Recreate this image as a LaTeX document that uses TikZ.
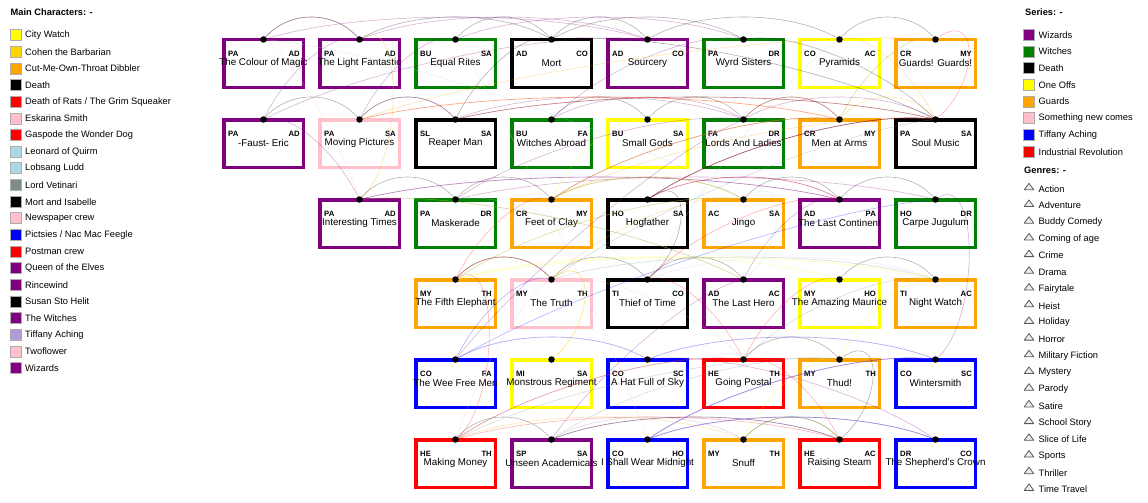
\documentclass[tikz,border=0pt]{standalone}
\usepackage{fontspec}
\setmainfont{Liberation Sans}
\usetikzlibrary{calc}
\definecolor{cpurple}{HTML}{800080}
\definecolor{cgreen}{HTML}{008000}
\definecolor{cyellow}{HTML}{FFFF00}
\definecolor{corange}{HTML}{FFA500}
\definecolor{cpink}{HTML}{FFC0CB}
\definecolor{cblue}{HTML}{0000FF}
\definecolor{cred}{HTML}{FF0000}
\definecolor{cgold}{HTML}{FFD700}
\definecolor{clblue}{HTML}{ADD8E6}
\definecolor{cgrey}{HTML}{7F8C8D}
\definecolor{clav}{HTML}{B19CD9}
\newcommand\bookbox[7]{%
  \node[book, draw=#4] (#1box) at (#2,#3) {};
  \node[code, anchor=west] (#1l) at ({#2-35.5},{#3-9.5}) {#5};
  \node[code, anchor=east] (#1r) at ({#2+36.5},{#3-9.5}) {#6};
  \node[ttl] (#1t) at (#2,{#3-0.8}) {#7};
  \coordinate (#1c) at (#2,{#3-24});}
\newcommand\putdot[1]{\node[bdot] (#1) at (#1c) {};}
\newcommand\lnk[3]{\draw[link,#1] (#2c) .. controls ($(#2c)!0.25!(#3c)+(0,-30)$) and ($(#2c)!0.75!(#3c)+(0,-30)$) .. (#3c);}
\newcommand\lnkv[3]{\draw[link,#1] (#2c) .. controls +(45,-35) and +(45,-35) .. (#3c);}
\newcommand\legitem[4]{%
  \node[sq, fill=#3] (#1s) at (15.5,#2) {};
  \node[legtxt] (#1t) at (25,#2) {#4};}
\newcommand\seritem[4]{%
  \node[sq, fill=#3] (#1s) at (1029,#2) {};
  \node[legtxt] (#1t) at (1038.5,#2) {#4};}
\newcommand\genitem[3]{%
  \draw[fill=gray!15, draw=gray!70!black, line width=0.8pt, line join=round] (1029,{#2-5}) -- (1033.8,{#2+1.5}) -- (1024.2,{#2+1.5}) -- cycle;
  \node[legtxt] (#1t) at (1038.5,{#2+0.5}) {#3};}
\begin{document}
\begin{tikzpicture}[x=1pt,y=-1pt,
  book/.style={draw, line width=3.5pt, minimum width=79.5pt, minimum height=47.5pt, inner sep=0pt, fill=white},
  code/.style={font=\fontsize{7.7}{8}\selectfont\bfseries, inner sep=0pt},
  ttl/.style={font=\fontsize{9.8}{11}\selectfont, inner sep=0pt},
  bdot/.style={circle, fill=black, inner sep=0pt, minimum size=6.5pt},
  link/.style={line width=0.6pt, opacity=0.3},
  sq/.style={draw=gray!65, line width=0.9pt, minimum size=11pt, inner sep=0pt},
  legtxt/.style={anchor=west, inner sep=0pt, font=\fontsize{9.3}{11}\selectfont},
  hdr/.style={anchor=west, inner sep=0pt, font=\fontsize{9.3}{11}\selectfont\bfseries}]
\useasboundingbox[fill=white] (0,0) rectangle (1148,503);

% ---- left legend
\node[hdr] (mainhdr) at (10.5,12.3) {Main Characters: -};
\legitem{a1}{35.2}{cyellow}{City Watch}
\legitem{a2}{51.85}{cgold}{Cohen the Barbarian}
\legitem{a3}{68.5}{corange}{Cut-Me-Own-Throat Dibbler}
\legitem{a4}{85.15}{black}{Death}
\legitem{a5}{101.8}{cred}{Death of Rats / The Grim Squeaker}
\legitem{a6}{118.45}{cpink}{Eskarina Smith}
\legitem{a7}{135.1}{cred}{Gaspode the Wonder Dog}
\legitem{a8}{151.75}{clblue}{Leonard of Quirm}
\legitem{a9}{168.4}{clblue}{Lobsang Ludd}
\legitem{a10}{185.05}{cgrey}{Lord Vetinari}
\legitem{a11}{201.7}{black}{Mort and Isabelle}
\legitem{a12}{218.35}{cpink}{Newspaper crew}
\legitem{a13}{235}{cblue}{Pictsies / Nac Mac Feegle}
\legitem{a14}{251.65}{cred}{Postman crew}
\legitem{a15}{268.3}{cpurple}{Queen of the Elves}
\legitem{a16}{284.95}{cpurple}{Rincewind}
\legitem{a17}{301.6}{black}{Susan Sto Helit}
\legitem{a18}{318.25}{cpurple}{The Witches}
\legitem{a19}{334.9}{clav}{Tiffany Aching}
\legitem{a20}{351.55}{cpink}{Twoflower}
\legitem{a21}{368.2}{cpurple}{Wizards}

% ---- right legend
\node[hdr] (serhdr) at (1025,12.5) {Series: -};
\seritem{s1}{34.8}{cpurple}{Wizards}
\seritem{s2}{51.5}{cgreen}{Witches}
\seritem{s3}{68.2}{black}{Death}
\seritem{s4}{84.9}{cyellow}{One Offs}
\seritem{s5}{101.6}{corange}{Guards}
\seritem{s6}{118.3}{cpink}{Something new comes}
\seritem{s7}{135}{cblue}{Tiffany Aching}
\seritem{s8}{151.7}{cred}{Industrial Revolution}
\node[hdr] (genhdr) at (1024,170.3) {Genres: -};
\genitem{g1}{188.3}{Action}
\genitem{g2}{205}{Adventure}
\genitem{g3}{221.7}{Buddy Comedy}
\genitem{g4}{238.4}{Coming of age}
\genitem{g5}{255.1}{Crime}
\genitem{g6}{271.8}{Drama}
\genitem{g7}{288.5}{Fairytale}
\genitem{g8}{305.2}{Heist}
\genitem{g9}{321.9}{Holiday}
\genitem{g10}{338.6}{Horror}
\genitem{g11}{355.3}{Military Fiction}
\genitem{g12}{372}{Mystery}
\genitem{g13}{388.7}{Parody}
\genitem{g14}{405.4}{Satire}
\genitem{g15}{422.1}{School Story}
\genitem{g16}{438.8}{Slice of Life}
\genitem{g17}{455.5}{Sports}
\genitem{g18}{472.2}{Thriller}
\genitem{g19}{488.9}{Time Travel}

% ---- books
\bookbox{com}{263.5}{63.5}{cpurple}{PA}{AD}{The Colour of Magic}
\bookbox{lf}{359.5}{63.5}{cpurple}{PA}{AD}{The Light Fantastic}
\bookbox{er}{455.5}{63.5}{cgreen}{BU}{SA}{Equal Rites}
\bookbox{mort}{551.5}{63.5}{black}{AD}{CO}{Mort}
\bookbox{sou}{647.5}{63.5}{cpurple}{AD}{CO}{Sourcery}
\bookbox{ws}{743.5}{63.5}{cgreen}{PA}{DR}{Wyrd Sisters}
\bookbox{pyr}{839.5}{63.5}{cyellow}{CO}{AC}{Pyramids}
\bookbox{gg}{935.5}{63.5}{corange}{CR}{MY}{Guards! Guards!}
\bookbox{eric}{263.5}{143.5}{cpurple}{PA}{AD}{-Faust- Eric}
\bookbox{mp}{359.5}{143.5}{cpink}{PA}{SA}{Moving Pictures}
\bookbox{rm}{455.5}{143.5}{black}{SL}{SA}{Reaper Man}
\bookbox{wa}{551.5}{143.5}{cgreen}{BU}{FA}{Witches Abroad}
\bookbox{sg}{647.5}{143.5}{cyellow}{BU}{SA}{Small Gods}
\bookbox{ll}{743.5}{143.5}{cgreen}{FA}{DR}{Lords And Ladies}
\bookbox{maa}{839.5}{143.5}{corange}{CR}{MY}{Men at Arms}
\bookbox{sm}{935.5}{143.5}{black}{PA}{SA}{Soul Music}
\bookbox{it}{359.5}{223.5}{cpurple}{PA}{AD}{Interesting Times}
\bookbox{mask}{455.5}{223.5}{cgreen}{PA}{DR}{Maskerade}
\bookbox{foc}{551.5}{223.5}{corange}{CR}{MY}{Feet of Clay}
\bookbox{hog}{647.5}{223.5}{black}{HO}{SA}{Hogfather}
\bookbox{jingo}{743.5}{223.5}{corange}{AC}{SA}{Jingo}
\bookbox{tlc}{839.5}{223.5}{cpurple}{AD}{PA}{The Last Continent}
\bookbox{cj}{935.5}{223.5}{cgreen}{HO}{DR}{Carpe Jugulum}
\bookbox{tfe}{455.5}{303.5}{corange}{MY}{TH}{The Fifth Elephant}
\bookbox{tt}{551.5}{303.5}{cpink}{MY}{TH}{The Truth}
\bookbox{tot}{647.5}{303.5}{black}{TI}{CO}{Thief of Time}
\bookbox{tlh}{743.5}{303.5}{cpurple}{AD}{AC}{The Last Hero}
\bookbox{tam}{839.5}{303.5}{cyellow}{MY}{HO}{The Amazing Maurice}
\bookbox{nw}{935.5}{303.5}{corange}{TI}{AC}{Night Watch}
\bookbox{wfm}{455.5}{383.5}{cblue}{CO}{FA}{The Wee Free Men}
\bookbox{mr}{551.5}{383.5}{cyellow}{MI}{SA}{Monstrous Regiment}
\bookbox{hfs}{647.5}{383.5}{cblue}{CO}{SC}{A Hat Full of Sky}
\bookbox{gp}{743.5}{383.5}{cred}{HE}{TH}{Going Postal}
\bookbox{thud}{839.5}{383.5}{corange}{MY}{TH}{Thud!}
\bookbox{wint}{935.5}{383.5}{cblue}{CO}{SC}{Wintersmith}
\bookbox{mm}{455.5}{463.5}{cred}{HE}{TH}{Making Money}
\bookbox{ua}{551.5}{463.5}{cpurple}{SP}{SA}{Unseen Academicals}
\bookbox{iswm}{647.5}{463.5}{cblue}{CO}{HO}{I Shall Wear Midnight}
\bookbox{snuff}{743.5}{463.5}{corange}{MY}{TH}{Snuff}
\bookbox{rs}{839.5}{463.5}{cred}{HE}{AC}{Raising Steam}
\bookbox{tsc}{935.5}{463.5}{cblue}{DR}{CO}{The Shepherd\textquotesingle s Crown}

% ---- links
% Rincewind
\lnk{cpurple}{com}{lf}\lnk{cpurple}{lf}{sou}\lnk{cpurple}{sou}{eric}\lnk{cpurple}{eric}{it}
\lnk{cpurple}{it}{tlc}\lnk{cpurple}{tlc}{tlh}\lnk{cpurple}{tlh}{ua}\lnk{cpurple}{lf}{eric}\lnk{cpurple}{com}{sou}
% Twoflower
\lnk{cpink}{com}{lf}\lnkv{cpink}{lf}{it}\lnk{cpink}{com}{it}
% Cohen
\lnkv{cgold}{lf}{it}\lnk{cgold}{it}{tlh}
% Death
\lnk{black}{com}{lf}\lnk{black}{lf}{mort}\lnk{black}{mort}{sou}\lnk{black}{mort}{rm}\lnk{black}{rm}{sm}
\lnk{black}{er}{mort}\lnk{black}{ws}{sm}\lnk{black}{pyr}{gg}\lnk{black}{eric}{mp}\lnk{black}{mp}{rm}
\lnk{black}{wa}{sg}\lnk{black}{sg}{ll}\lnk{black}{ll}{maa}\lnk{black}{it}{mask}\lnk{black}{mask}{foc}
\lnk{black}{jingo}{tlc}\lnk{black}{tlc}{cj}\lnk{black}{tfe}{tt}\lnk{black}{tt}{tot}\lnk{black}{tam}{nw}
\lnk{black}{gp}{thud}\lnk{black}{mm}{ua}\lnk{black}{snuff}{rs}\lnk{black}{ua}{rs}\lnkv{black}{thud}{rs}
\lnk{black}{tot}{tlh}\lnk{black}{mort}{ws}\lnk{black}{sou}{pyr}
% Wizards
\lnk{cpurple}{er}{mp}\lnk{cpurple}{mp}{rm}\lnk{cpurple}{rm}{ll}\lnk{cpurple}{ll}{sm}\lnk{cpurple}{sm}{hog}
\lnk{cpurple}{hog}{tlc}\lnk{cpurple}{ua}{rs}\lnk{cpurple}{it}{tlc}
% Witches
\lnk{cpurple}{er}{ws}\lnk{cpurple}{ws}{wa}\lnk{cpurple}{wa}{ll}\lnk{cpurple}{ll}{mask}\lnk{cpurple}{mask}{cj}
\lnkv{cpurple}{cj}{wint}\lnk{cpurple}{wint}{iswm}\lnk{cpurple}{iswm}{tsc}\lnk{cpurple}{hfs}{tsc}
% City Watch
\lnk{cyellow}{gg}{maa}\lnk{cyellow}{maa}{foc}\lnk{cyellow}{foc}{jingo}\lnk{cyellow}{jingo}{tfe}\lnk{cyellow}{tfe}{nw}
\lnk{cyellow}{nw}{thud}\lnk{cyellow}{thud}{snuff}\lnk{cyellow}{snuff}{rs}\lnkv{cyellow}{tt}{mr}\lnk{cyellow}{tam}{tfe}\lnk{cyellow}{sg}{foc}
% Dibbler
\lnk{corange}{gg}{mp}\lnk{corange}{mp}{maa}\lnk{corange}{maa}{sm}\lnk{corange}{sm}{foc}\lnk{corange}{foc}{jingo}
\lnk{corange}{jingo}{tt}\lnkv{corange}{tt}{mr}\lnk{corange}{pyr}{sm}\lnk{corange}{mm}{snuff}
% Vetinari
\lnk{cgrey}{gg}{maa}\lnk{cgrey}{maa}{foc}\lnk{cgrey}{foc}{jingo}\lnk{cgrey}{jingo}{tfe}\lnk{cgrey}{tfe}{tt}
\lnk{cgrey}{tt}{nw}\lnk{cgrey}{nw}{gp}\lnk{cgrey}{gp}{mm}\lnk{cgrey}{mm}{thud}\lnk{cgrey}{thud}{ua}
\lnk{cgrey}{ua}{snuff}\lnk{cgrey}{snuff}{rs}\lnk{cgrey}{it}{tlh}\lnk{cgrey}{sm}{tt}
% Death of Rats
\lnk{cred}{rm}{sm}\lnk{cred}{sm}{hog}\lnk{cred}{hog}{tlc}\lnk{cred}{tlc}{tot}\lnk{cred}{tot}{gp}
\lnk{cred}{maa}{ll}\lnkv{cred}{gg}{sm}
% Gaspode
\lnk{cred}{mp}{maa}\lnk{cred}{maa}{foc}\lnk{cred}{foc}{tfe}\lnk{cred}{tfe}{tt}\lnkv{cred}{tfe}{mm}
% Susan, Mort
\lnk{black}{sm}{hog}\lnkv{black}{hog}{tot}\lnk{black}{mort}{sm}
% Leonard, Lobsang
\lnk{clblue}{com}{jingo}\lnkv{clblue}{jingo}{tlh}\lnk{clblue}{pyr}{tot}\lnk{clblue}{tot}{nw}\lnk{clblue}{mask}{tot}
% Pictsies
\lnk{cblue}{cj}{wfm}\lnk{cblue}{wfm}{hfs}\lnk{cblue}{hfs}{wint}\lnk{cblue}{wint}{iswm}\lnk{cblue}{iswm}{tsc}\lnk{cblue}{tt}{wfm}
% Tiffany
\lnk{clav}{wfm}{hfs}\lnk{clav}{hfs}{wint}\lnk{clav}{wint}{iswm}\lnk{clav}{iswm}{tsc}
% Postman
\lnk{cred}{gp}{mm}\lnk{cred}{mm}{rs}\lnk{cred}{gp}{rs}\lnk{cred}{tam}{gp}
% Newspaper, Queen, Eskarina
\lnk{cpink}{tt}{gp}\lnk{cpink}{tt}{mm}\lnk{cpurple}{ll}{wfm}\lnk{cpink}{er}{iswm}

% ---- dots
\foreach \b in {com,lf,er,mort,sou,ws,pyr,gg,eric,mp,rm,wa,sg,ll,maa,sm,it,mask,foc,hog,jingo,tlc,cj,tfe,tt,tot,tlh,tam,nw,wfm,mr,hfs,gp,thud,wint,mm,ua,iswm,snuff,rs,tsc}{\putdot{\b}}
\end{tikzpicture}
\end{document}
